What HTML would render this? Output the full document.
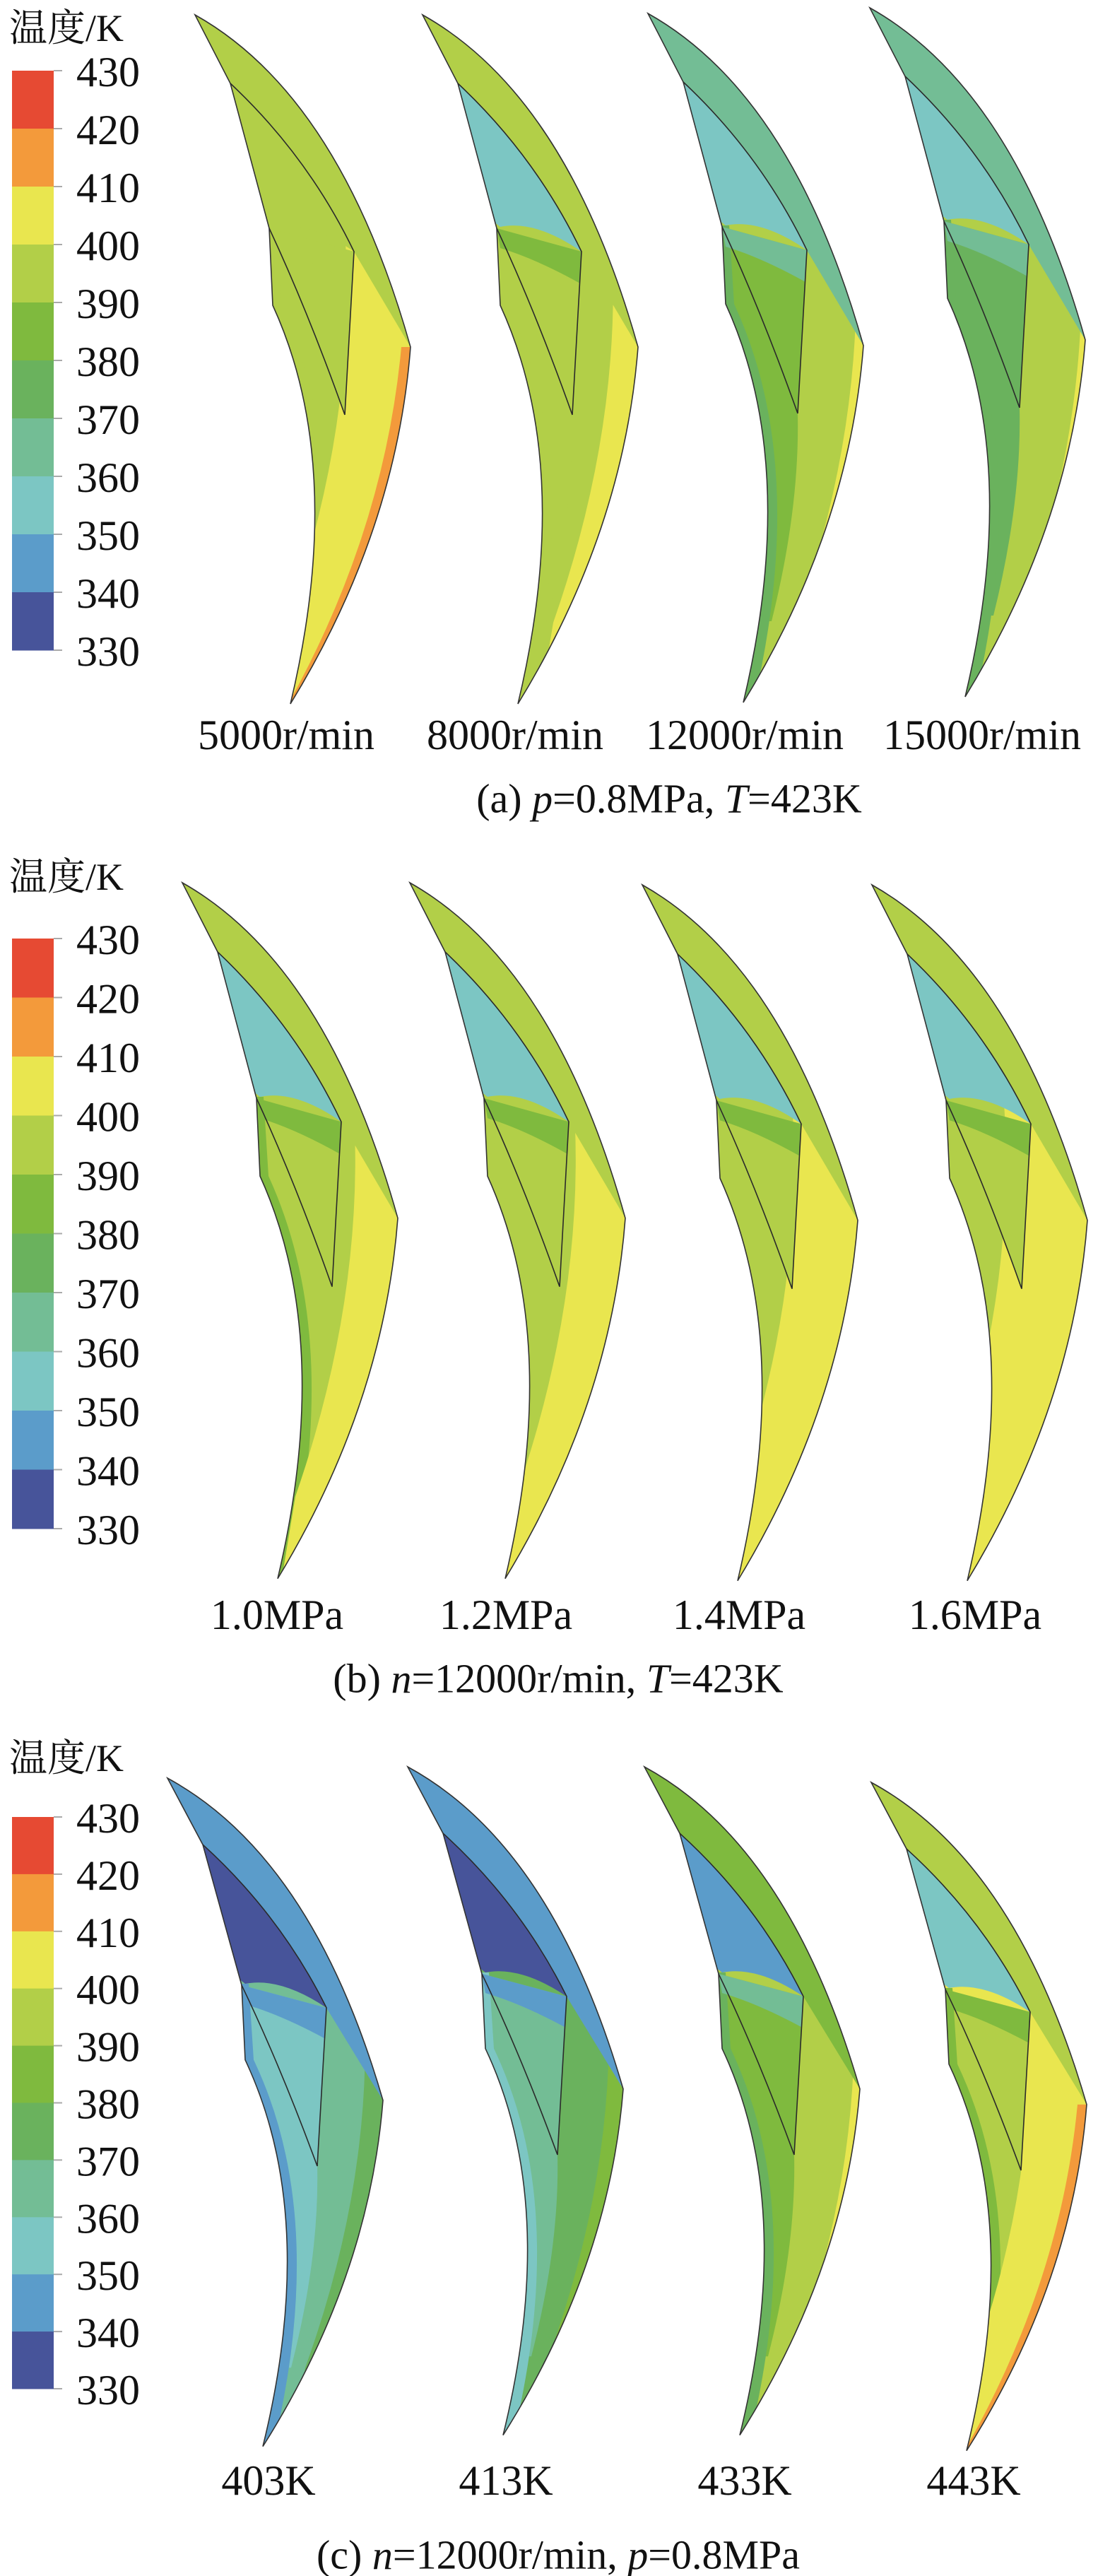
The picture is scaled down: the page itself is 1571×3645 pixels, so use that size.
<!DOCTYPE html>
<html><head><meta charset="utf-8"><style>
html,body{margin:0;padding:0;background:#fff}
svg{display:block}
text{font-family:"Liberation Serif","Noto Serif CJK SC",serif;fill:#111}
</style></head><body>
<svg id="fig" width="1571" height="3645" viewBox="0 0 1571 3645" xmlns="http://www.w3.org/2000/svg"></svg>
<script>
// colorbar data
const cbTicks = [430,420,410,400,390,380,370,360,350,340,330];
const cbColors = ["#e64a33","#f39a3b","#e9e64f","#b2cf48","#7fba3e","#6ab25d","#73bd95","#7cc6c3","#5b9cca","#47549a"];
// panel labels
const labelsA = ["5000r/min","8000r/min","12000r/min","15000r/min"];
const labelsB = ["1.0MPa","1.2MPa","1.4MPa","1.6MPa"];
const labelsC = ["403K","413K","433K","443K"];
// region colour indices (into cbColors) per blade
const bladesA = [
 {base:3,left:3,mid:3,right:2,shift:20,edge:1,top:3,topOuter:3,tri:3,triTop:3},
 {base:3,left:3,mid:3,right:2,shift:-35,edge:null,top:7,topOuter:3,tri:3,triTop:4},
 {base:3,left:5,mid:4,right:2,shift:-60,edge:null,top:7,topOuter:6,tri:4,triTop:6},
 {base:3,left:5,mid:5,right:2,shift:-65,edge:null,top:7,topOuter:6,tri:5,triTop:6}
];
const bladesB = [
 {base:3,left:4,mid:3,right:2,shift:-10,edge:null,top:7,topOuter:3,tri:3,triTop:4},
 {base:3,left:3,mid:3,right:2,shift:0,edge:null,top:7,topOuter:3,tri:3,triTop:4},
 {base:3,left:3,mid:3,right:2,shift:20,edge:null,top:7,topOuter:3,tri:3,triTop:4},
 {base:3,left:3,mid:3,right:2,shift:45,edge:null,top:7,topOuter:3,tri:3,triTop:4}
];
const bladesC = [
 {base:6,left:8,mid:7,right:5,shift:-45,edge:null,top:9,topOuter:8,tri:7,triTop:8},
 {base:5,left:7,mid:6,right:4,shift:-50,edge:null,top:9,topOuter:8,tri:6,triTop:8},
 {base:3,left:5,mid:4,right:2,shift:-62,edge:null,top:8,topOuter:4,tri:4,triTop:6},
 {base:2,left:4,mid:3,right:2,shift:10,edge:1,top:7,topOuter:3,tri:3,triTop:4}
];
const NS="http://www.w3.org/2000/svg";
const svg=document.getElementById('fig');
function mk(tag,attrs,parent){const e=document.createElementNS(NS,tag);for(const k in attrs)e.setAttribute(k,attrs[k]);(parent||svg).appendChild(e);return e;}

const OUTLINE="M0,0 Q205,115 305,470 Q285,730 135,975 Q215,640 110,411 L105,302 L50,97 Z";
const R={
 left:"M95,300 L110,411 Q215,640 135,975 L150,975 Q228,640 122,411 L115,300 Z",
 mid:"M105,302 Q160,420 212,566 Q215,700 175,860 L150,860 Q200,640 110,411 Z",
 right:"M230,280 Q255,560 150,860 L120,1040 L450,1040 L450,280 Z",
 edge:"M292,470 L420,470 L150,1040 L120,1000 L132,975 Q268,730 292,470 Z",
 top:"M-30,-10 L50,97 Q160,200 225,335 Q160,290 110,300 L60,260 L-30,100 Z",
 topOuter:"M0,0 Q205,115 305,470 L225,335 Q160,200 50,97 Z",
 tri:"M105,302 L225,335 L212,566 Q160,420 105,302 Z",
 triTop:"M105,302 L225,335 L223,380 Q160,345 110,330 Z"
};
let cid=0;
function blade(g,x,y,sy,c,name){
  const bg=mk('g',{transform:`translate(${x},${y}) scale(1,${sy})`},g);
  
  
  const id='clip'+(cid++);
  const cp=mk('clipPath',{id:id},bg);mk('path',{d:OUTLINE},cp);
  const inner=mk('g',{'clip-path':`url(#${id})`},bg);
  mk('path',{d:OUTLINE,fill:cbColors[c.base]},inner);
  mk('path',{d:R.mid,fill:cbColors[c.mid]},inner);
  mk('path',{d:R.left,fill:cbColors[c.left]},inner);
  mk('path',{d:R.right,fill:cbColors[c.right],transform:`translate(${-c.shift},0)`},inner);
  if(c.edge!==null)mk('path',{d:R.edge,fill:cbColors[c.edge]},inner);
  mk('path',{d:R.topOuter,fill:cbColors[c.topOuter]},inner);
  mk('path',{d:R.top,fill:cbColors[c.top]},inner);
  mk('path',{d:R.tri,fill:cbColors[c.tri]},inner);
  mk('path',{d:R.triTop,fill:cbColors[c.triTop]},inner);
  mk('path',{d:OUTLINE,fill:'none',stroke:'#333','stroke-width':1.6,'vector-effect':'non-scaling-stroke'},bg);
  mk('path',{d:"M50,97 Q160,200 225,335 L212,566 M105,302 Q160,420 212,566",fill:'none',stroke:'#2a2a2a','stroke-width':1.6,'vector-effect':'non-scaling-stroke'},bg);
}
function panel(cfg){
  const g=mk('g',{});
  
  
  const t=mk('text',{x:13,y:cfg.titleY,'font-size':54,'dominant-baseline':'central'},g);
  t.textContent='温度/K';
  
  
  const seg=(cfg.cbBot-cfg.cbTop)/cbColors.length;
  cbColors.forEach((col,i)=>{
    const r=mk('rect',{x:17,y:cfg.cbTop+i*seg,width:59,height:seg+0.5,fill:col},g);
    
    
  });
  cbTicks.forEach((v,i)=>{
    const yy=cfg.cbTop+i*seg;
    mk('line',{x1:76,x2:88,y1:yy,y2:yy,stroke:'#aaa','stroke-width':2},g);
    const tx=mk('text',{x:108,y:yy+2,'font-size':60,'dominant-baseline':'central'},g);
    tx.textContent=v;
    
    
  });
  cfg.blades.forEach((c,i)=>blade(g,cfg.tips[i][0],cfg.tips[i][1],cfg.sy,c,'blade-contour-'+(i+1)));
  cfg.labels.forEach((s,i)=>{
    const tx=mk('text',{x:cfg.labX[i],y:cfg.labY,'font-size':60,'text-anchor':'middle','dominant-baseline':'central'},g);
    tx.textContent=s;
    
    
  });
  const cap=mk('text',{x:cfg.capX,y:cfg.capY,'font-size':58,'text-anchor':'middle','dominant-baseline':'central'},g);
  cap.innerHTML=cfg.caption;
  
  
}
panel({name:'panel-a',titleY:40,cbTop:100,cbBot:920,sy:1.0,
 tips:[[276,21],[598,21],[917,19],[1231,11]],blades:bladesA,labels:labelsA,
 labX:[405,729,1054,1390],labY:1040,capX:947,capY:1130,
 caption:'(a) <tspan font-style="italic">p</tspan>=0.8MPa, <tspan font-style="italic">T</tspan>=423K'});
panel({name:'panel-b',titleY:1241,cbTop:1328,cbBot:2163,sy:1.01,
 tips:[[258,1249],[580,1249],[909,1252],[1234,1252]],blades:bladesB,labels:labelsB,
 labX:[392,716,1046,1380],labY:2285,capX:790,capY:2375,
 caption:'(b) <tspan font-style="italic">n</tspan>=12000r/min, <tspan font-style="italic">T</tspan>=423K'});
panel({name:'panel-c',titleY:2488,cbTop:2571,cbBot:3380,sy:0.97,
 tips:[[237,2516],[577,2500],[912,2500],[1233,2522]],blades:bladesC,labels:labelsC,
 labX:[380,716,1054,1378],labY:3510,capX:790,capY:3615,
 caption:'(c) <tspan font-style="italic">n</tspan>=12000r/min, <tspan font-style="italic">p</tspan>=0.8MPa'});
</script>
</body></html>
